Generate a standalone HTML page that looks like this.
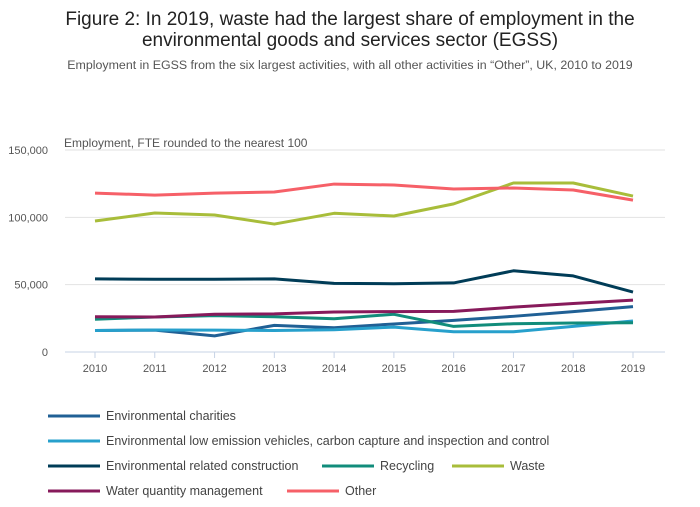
<!DOCTYPE html>
<html><head><meta charset="utf-8"><style>
body{margin:0;background:#fff;font-family:"Liberation Sans","DejaVu Sans",sans-serif;}
svg text{font-family:"Liberation Sans","DejaVu Sans",sans-serif;}
</style></head><body>
<svg id="c" width="700" height="502">
<text x="350" y="25" text-anchor="middle" font-size="19" fill="#222">Figure 2: In 2019, waste had the largest share of employment in the</text>
<text x="350" y="46" text-anchor="middle" font-size="19" fill="#222">environmental goods and services sector (EGSS)</text>
<text x="350" y="69" text-anchor="middle" font-size="12.4" fill="#555">Employment in EGSS from the six largest activities, with all other activities in “Other”, UK, 2010 to 2019</text>
<text x="64" y="147" font-size="12" fill="#555">Employment, FTE rounded to the nearest 100</text>
<g id="grid"></g><g id="series"></g><g id="legend"></g>
</svg>
<script>
const years=[2010,2011,2012,2013,2014,2015,2016,2017,2018,2019];
const yTicks=[0,50000,100000,150000];
const yTickLabels=["0","50,000","100,000","150,000"];
const charities=[16000,16200,12000,19800,18000,20800,23500,26500,30000,33700];
const lowEmission=[16000,16300,16200,16000,16500,18500,15000,15000,19000,23000];
const construction=[54300,54000,54000,54300,51000,50700,51300,60300,56500,44500];
const recycling=[24300,26000,27000,26200,24700,28000,19000,21000,21500,21700];
const waste=[97300,103200,101700,95000,103000,101000,110000,125500,125500,115800];
const water=[26200,26000,28000,28300,29700,30000,30200,33300,36000,38500];
const other=[118000,116500,118000,118800,124700,124000,121000,121800,120300,112800];
const seriesNames=["Environmental charities","Environmental low emission vehicles, carbon capture and inspection and control","Environmental related construction","Recycling","Waste","Water quantity management","Other"];
const seriesData=[charities,lowEmission,construction,recycling,waste,water,other];
const colors=["#206095","#27a0cc","#003c57","#118c7b","#a8bd3a","#871a5b","#f66068"];
const NS="http://www.w3.org/2000/svg";
const X=i=>95+i*(633-95)/(years.length-1);
const Y=v=>352-v*(202/150000);
function mk(t,a,p){const e=document.createElementNS(NS,t);for(const k in a)e.setAttribute(k,a[k]);p.appendChild(e);return e;}
const g=document.getElementById('grid');
yTicks.forEach((v,i)=>{
 if(v>0){const l=mk('line',{x1:65,x2:665,y1:Y(v),y2:Y(v),stroke:'#e2e2e2'},g);
 
 }
 const t=mk('text',{x:48,y:Y(v)+4,'text-anchor':'end','font-size':11,fill:'#555'},g);t.textContent=yTickLabels[i];
 
 
});
const ax=mk('line',{x1:65,x2:665,y1:352,y2:352,stroke:'#c7d3e6'},g);


years.forEach((y,i)=>{
 mk('line',{x1:X(i),x2:X(i),y1:352,y2:358,stroke:'#c7d3e6'},g);
 const t=mk('text',{x:X(i),y:372,'text-anchor':'middle','font-size':11,fill:'#555'},g);t.textContent=y;
 
 
});
const s=document.getElementById('series');
seriesData.forEach((d,k)=>{
 const p=mk('polyline',{points:d.map((v,i)=>X(i)+','+Y(v)).join(' '),fill:'none',stroke:colors[k],'stroke-width':3,'stroke-linejoin':'round'},s);
 
 
});
const lg=document.getElementById('legend');
const pos=[[48,416],[48,441],[48,466],[322,466],[452,466],[48,491],[287,491]];
pos.forEach((p,k)=>{
 mk('line',{x1:p[0],x2:p[0]+52,y1:p[1],y2:p[1],stroke:colors[k],'stroke-width':3},lg);
 const t=mk('text',{x:p[0]+58,y:p[1]+4,'font-size':12.5,fill:'#444'},lg);t.textContent=seriesNames[k];
 
 
});
</script>
</body></html>
